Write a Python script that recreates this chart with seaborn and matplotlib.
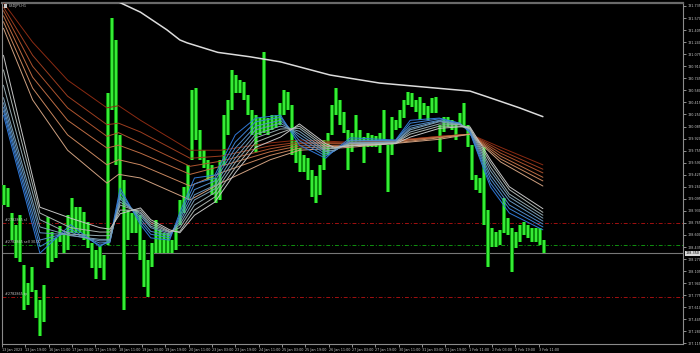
import numpy as np
import pandas as pd
import matplotlib
matplotlib.use("Agg")
import matplotlib.pyplot as plt
import seaborn as sns

# ---------------- data ----------------
symbol_title = "USDJPY,H1"
bars_per_bin = 2.743  # each candle group spans ~2.74 H1 bars

bin_high = [129.28,129.24,128.90,128.74,128.87,128.19,127.94,128.16,127.85,127.71,
            127.91,128.85,128.64,128.56,128.72,128.63,128.87,129.11,128.98,128.98,
            128.91,128.78,128.49,128.39,128.45,128.33,130.54,131.57,131.27,129.97,
            129.35,128.94,128.90,128.94,128.87,128.53,128.26,128.49,128.81,128.67,
            128.63,128.63,128.53,128.74,129.08,129.26,129.56,130.58,130.61,130.04,
            129.76,129.63,129.56,129.38,129.63,130.24,130.45,130.86,130.79,130.72,
            130.69,130.52,130.31,130.24,130.20,131.10,130.20,130.24,130.24,130.41,
            130.58,130.56,130.38,129.90,129.79,129.69,129.65,129.49,129.41,129.56,
            129.90,130.00,130.38,130.61,130.45,130.28,130.04,130.00,130.24,130.04,
            129.94,130.00,129.97,129.95,130.00,130.31,129.83,130.22,130.17,130.31,
            130.45,130.56,130.54,130.45,130.49,130.41,130.37,130.48,130.49,130.11,
            130.22,130.22,130.17,130.13,130.27,130.41,130.11,129.83,129.42,129.38,
            129.80,128.94,128.70,128.64,128.67,129.11,128.83,128.70,128.64,128.74,
            128.78,128.74,128.70,128.70,128.70,128.53]
bin_low = [129.01,128.98,128.53,128.28,128.23,127.57,127.64,127.82,127.46,127.22,
           127.41,128.15,128.23,128.28,128.50,128.35,128.39,128.63,128.63,128.63,
           128.53,128.42,128.15,128.00,128.15,127.98,128.46,130.31,129.56,129.08,
           127.57,128.53,128.63,128.63,128.26,127.89,127.75,128.16,128.35,128.35,
           128.35,128.35,128.35,128.39,128.74,128.90,129.08,129.63,129.90,129.63,
           129.52,129.35,129.15,129.04,129.08,129.56,129.97,130.31,130.54,130.54,
           130.45,130.24,129.97,129.74,129.97,130.00,129.97,130.04,130.06,130.11,
           130.24,130.31,129.69,129.58,129.46,129.46,129.35,129.12,129.04,129.15,
           129.49,129.69,129.97,130.24,130.11,130.00,129.49,129.74,129.86,129.80,
           129.58,129.80,129.80,129.80,129.72,129.90,129.19,129.69,130.04,130.06,
           130.20,130.38,130.35,130.28,130.17,130.24,130.17,130.27,130.27,129.74,
           130.01,130.08,130.04,129.90,130.11,130.08,129.80,129.35,129.22,129.17,
           128.74,128.16,128.44,128.44,128.46,128.63,128.60,128.09,128.42,128.50,
           128.60,128.56,128.50,128.50,128.46,128.35]

# fast EMA ribbon (blue -> grey)
fast_bars = [1, 26, 47, 67, 74, 81, 95, 102, 115, 122, 132, 146, 160, 174, 191, 204,
             222, 228, 239, 270, 280, 300, 314, 321, 335, 348, 371]
fast_1 = [130.24,128.35,128.74,128.44,128.53,129.24,128.74,128.56,128.53,128.91,129.38,129.42,129.97,130.20,
          130.24,129.83,129.65,129.76,129.93,129.90,130.17,130.20,130.13,130.00,129.26,128.90,128.67]
fast_2 = [130.30,128.44,128.68,128.46,128.50,129.19,128.78,128.61,128.56,128.86,129.30,129.38,129.87,130.15,
          130.21,129.89,129.68,129.75,129.90,129.89,130.13,130.19,130.13,130.01,129.31,128.96,128.71]
fast_3 = [130.35,128.53,128.64,128.49,128.50,129.13,128.82,128.65,128.59,128.82,129.22,129.34,129.79,130.09,
          130.17,129.94,129.71,129.75,129.89,129.89,130.09,130.17,130.12,130.02,129.37,129.01,128.75]
fast_4 = [130.41,128.63,128.60,128.52,128.52,129.09,128.86,128.70,128.61,128.78,129.15,129.28,129.72,130.04,
          130.13,129.98,129.74,129.76,129.87,129.87,130.06,130.16,130.12,130.04,129.42,129.07,128.79]
fast_5 = [130.48,128.71,128.59,128.54,128.54,129.05,128.89,128.72,128.63,128.74,129.08,129.23,129.65,129.98,
          130.09,130.02,129.76,129.76,129.86,129.87,130.04,130.15,130.11,130.05,129.48,129.12,128.83]
fast_6 = [130.65,128.81,128.61,128.59,128.59,129.01,128.91,128.75,128.64,128.70,129.01,129.18,129.59,129.93,
          130.05,130.06,129.79,129.78,129.85,129.86,130.01,130.12,130.11,130.06,129.53,129.16,128.87]
fast_7 = [130.86,128.90,128.70,128.64,128.64,128.94,128.94,128.78,128.65,128.65,128.94,129.12,129.52,129.87,
          130.00,130.09,129.82,129.79,129.83,129.86,129.98,130.09,130.09,130.06,129.59,129.22,128.91]
fast_8 = [131.06,128.98,128.83,128.70,128.68,128.89,128.97,128.81,128.67,128.63,128.87,129.05,129.45,129.80,
          129.94,130.12,129.85,129.80,129.82,129.85,129.94,130.06,130.08,130.08,129.63,129.26,128.96]

# slow EMA ribbon (dark red -> tan)
slow_bars = [1, 21, 45, 72, 80, 95, 129, 150, 184, 204, 239, 273, 300, 321, 342, 371]
slow_1 = [131.78,131.24,130.72,130.34,130.37,130.17,129.76,129.76,129.86,129.90,129.87,129.90,129.95,129.98,129.80,129.56]
slow_2 = [131.72,131.06,130.50,130.11,130.13,130.01,129.65,129.68,129.82,129.87,129.86,129.90,129.95,129.98,129.76,129.50]
slow_3 = [131.67,130.91,130.34,129.95,130.00,129.86,129.54,129.61,129.78,129.85,129.85,129.89,129.94,129.98,129.72,129.45]
slow_4 = [131.60,130.76,130.17,129.79,129.83,129.72,129.43,129.54,129.74,129.82,129.83,129.89,129.94,129.98,129.68,129.39]
slow_5 = [131.52,130.61,129.97,129.56,129.63,129.56,129.27,129.45,129.69,129.79,129.82,129.87,129.93,129.98,129.64,129.34]
slow_6 = [131.43,130.45,129.76,129.31,129.43,129.38,129.08,129.31,129.63,129.76,129.80,129.86,129.91,129.98,129.60,129.27]

# long moving average (white)
long_bars = [71, 80, 95, 113, 122, 127, 148, 170, 191, 225, 259, 287, 321, 333, 355, 371]
long_ma = [131.93,131.79,131.65,131.41,131.27,131.23,131.10,131.04,130.97,130.79,130.68,130.63,130.57,130.49,130.34,130.22]

# order lines and current price
order_sl = 128.765
order_entry = 128.462
order_tp = 127.750
order_labels = ["#2782865 sl", "#2782865 sell 30.00", "#2782865 tp"]
bid_price = 128.350

price_ticks = [131.735,131.570,131.405,131.240,131.075,130.910,130.745,130.580,130.415,130.250,
               130.085,129.920,129.755,129.590,129.425,129.260,129.095,128.930,128.765,128.600,
               128.435,128.270,128.105,127.940,127.775,127.610,127.445,127.280,127.115]
time_labels = ["13 Jan 2023", "13 Jan 19:00", "16 Jan 11:00", "17 Jan 03:00", "17 Jan 19:00",
               "18 Jan 11:00", "19 Jan 03:00", "19 Jan 19:00", "20 Jan 11:00", "23 Jan 03:00",
               "23 Jan 19:00", "24 Jan 11:00", "25 Jan 03:00", "25 Jan 19:00", "26 Jan 11:00",
               "27 Jan 03:00", "27 Jan 19:00", "30 Jan 11:00", "31 Jan 03:00", "31 Jan 19:00",
               "1 Feb 11:00", "2 Feb 03:00", "2 Feb 19:00", "3 Feb 11:00"]
bars_per_label = 16

# ---------------- style ----------------
sns.set_theme(style="dark", rc={"axes.facecolor": "black", "figure.facecolor": "black"})
plt.rcParams["font.family"] = ["DejaVu Sans"]
small = 2.4

fig = plt.figure(figsize=(7.0, 3.53), dpi=100)
ax = fig.add_axes([2/700, 9/353, 681/700, 341/353])
ax.set_facecolor("black")

fast_names = [f"f{i}" for i in range(1, 9)]
fast_vals = [fast_1, fast_2, fast_3, fast_4, fast_5, fast_6, fast_7, fast_8]
slow_names = [f"s{i}" for i in range(1, 7)]
slow_vals = [slow_1, slow_2, slow_3, slow_4, slow_5, slow_6]

rows = []
for n, v in zip(slow_names, slow_vals):
    rows += [{"bar": b, "price": p, "line": n} for b, p in zip(slow_bars, v)]
for n, v in zip(fast_names, fast_vals):
    rows += [{"bar": b, "price": p, "line": n} for b, p in zip(fast_bars, v)]
rows += [{"bar": b, "price": p, "line": "long"} for b, p in zip(long_bars, long_ma)]
ma_df = pd.DataFrame(rows)

palette = {
    "s1": "#8a2a12", "s2": "#9c3d1f", "s3": "#ad532e", "s4": "#bd6c44",
    "s5": "#c8865e", "s6": "#cfa080",
    "f1": "#2f78d8", "f2": "#3f82d2", "f3": "#528cc8", "f4": "#6696bf",
    "f5": "#7c9fb6", "f6": "#93a9b0", "f7": "#abb4b0", "f8": "#c4c4c4",
    "long": "#dcdcdc",
}

# candles
bin_x = 1.37 + bars_per_bin * np.arange(len(bin_high))
ax.vlines(bin_x, bin_low, bin_high, color="#0b8f0b", linewidth=2.9, zorder=3)
ax.vlines(bin_x, bin_low, bin_high, color="#3cf53c", linewidth=1.3, zorder=4)

# moving averages
sns.lineplot(data=ma_df[ma_df.line != "long"], x="bar", y="price", hue="line",
             palette=palette, legend=False, linewidth=0.7, estimator=None, ax=ax, zorder=5)
sns.lineplot(data=ma_df[ma_df.line == "long"], x="bar", y="price", color=palette["long"],
             legend=False, linewidth=1.1, estimator=None, ax=ax, zorder=5)

# order lines
ax.axhline(order_sl, color="#a01010", linewidth=0.7, linestyle=(0, (4, 2, 1, 2)), zorder=2)
ax.axhline(order_entry, color="#109010", linewidth=0.7, linestyle=(0, (4, 2, 1, 2)), zorder=2)
ax.axhline(order_tp, color="#a01010", linewidth=0.7, linestyle=(0, (4, 2, 1, 2)), zorder=2)
ax.axhline(bid_price, color="#777777", linewidth=0.8, zorder=2)
for lbl, yv in zip(order_labels, [order_sl, order_entry, order_tp]):
    ax.text(2, yv + 0.012, lbl, fontsize=small, color="#c8c8c8", va="bottom", ha="left", zorder=6)

# axes
ax.set_xlim(0, 467.1)
ax.set_ylim(127.107, 131.776)
ax.set_xlabel("")
ax.set_ylabel("")
ax.yaxis.tick_right()
ax.set_yticks(price_ticks)
ax.set_yticklabels([f"{t:.3f}" for t in price_ticks])
ax.set_xticks([i * bars_per_label for i in range(len(time_labels))])
ax.set_xticklabels(time_labels)
for t in ax.get_xticklabels():
    t.set_horizontalalignment("left")
ax.tick_params(axis="y", which="both", direction="out", length=2, width=0.5, colors="#c8c8c8",
               labelsize=small, pad=1.2, right=True, left=False)
ax.tick_params(axis="x", which="both", direction="out", length=2, width=0.5, colors="#c8c8c8",
               labelsize=small, pad=0.8, bottom=True)
ax.grid(False)
for s in ax.spines.values():
    s.set_color("#8a8a8a")
    s.set_linewidth(0.8)
    s.set_visible(True)
ax.spines["top"].set_linewidth(1.6)
ax.spines["top"].set_color("#6a6a6a")

# current price box
ax.text(1.004, bid_price, f"{bid_price:.3f}", transform=ax.get_yaxis_transform(), fontsize=small,
        color="black", va="center", ha="left",
        bbox=dict(boxstyle="square,pad=0.15", facecolor="#d8d8d8", edgecolor="none"), zorder=10,
        clip_on=False)

# title
fig.text(9/700, 1 - 6/353, symbol_title, fontsize=small, color="#c8c8c8", va="center", ha="left")
fig.patches.append(plt.Rectangle((4/700, 1 - 7.5/353), 3/700, 3/353, transform=fig.transFigure,
                                 facecolor="#c8c8c8", edgecolor="none"))

fig.savefig("out.png", dpi=100, facecolor="black")
